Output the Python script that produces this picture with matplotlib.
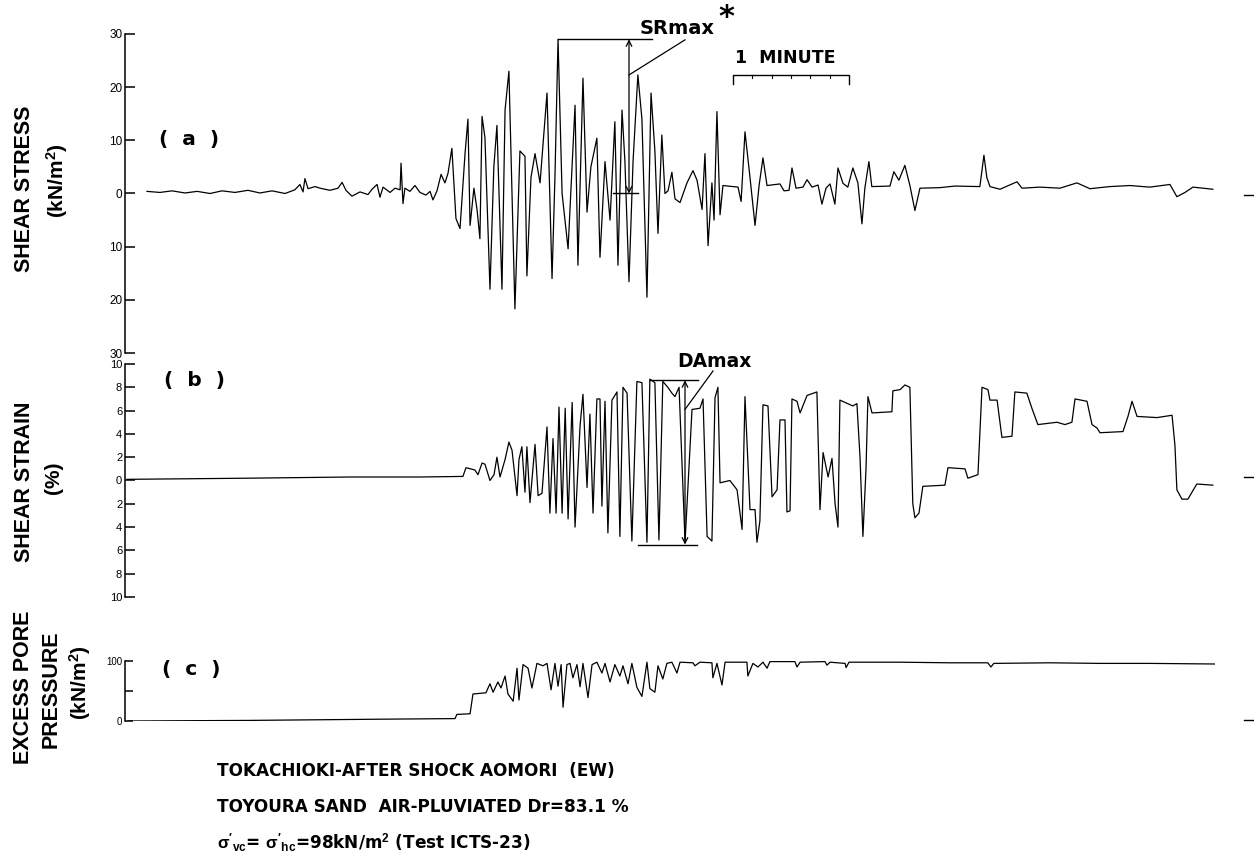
import matplotlib
matplotlib.use("Agg")
import matplotlib.pyplot as plt
from matplotlib.lines import Line2D

plt.rcParams['font.family'] = ['DejaVu Sans']
plt.rcParams['mathtext.fontset'] = 'custom'
plt.rcParams['mathtext.rm'] = 'Liberation Sans:bold'
plt.rcParams['mathtext.it'] = 'Liberation Sans:bold'
plt.rcParams['mathtext.bf'] = 'Liberation Sans:bold'
plt.rcParams['mathtext.default'] = 'rm'

# ---------------- data (time in seconds) ----------------
stress_t = [0, 6.7, 12.9, 19.7, 25.9, 32.6, 38.8, 45.5, 52.2, 58.4, 64.7, 71.4, 76.5, 79.1, 80.7,
            81.7, 83.3, 86.9, 89.5, 94.6, 98.8, 100.9, 102.9, 106.0, 110.2, 114.3, 116.4, 119.0,
            120.5, 122.1, 125.7, 128.3, 130.9, 131.4, 132.4, 133.4, 136.0, 138.6, 141.2, 144.3,
            146.4, 147.9, 150.0, 152.1, 154.1, 155.7, 157.7, 159.8, 161.9, 164.5, 166.0, 167.1,
            169.1, 170.7, 172.2, 173.3, 174.8, 177.4, 179.4, 181.0, 183.6, 185.2, 187.2, 188.8,
            190.3, 192.9, 195.5, 196.5, 198.6, 200.7, 203.3, 206.9, 209.5, 211.0, 212.6, 214.7,
            217.8, 221.4, 222.9, 225.5, 227.6, 229.6, 232.7, 234.3, 236.9, 239.5, 242.0, 243.6,
            245.7, 247.2, 249.3, 251.4, 253.9, 256.0, 258.6, 260.7, 262.7, 264.3, 266.3, 267.9,
            269.5, 271.5, 273.1, 275.7, 279.3, 282.4, 284.5, 287.1, 288.6, 290.2, 292.2, 293.3,
            294.8, 296.4, 297.9, 305.7, 307.3, 309.3, 311.9, 314.5, 316.6, 318.6, 320.7, 327.4,
            329.5, 332.1, 333.6, 335.7, 339.3, 341.4, 344.0, 347.1, 349.1, 351.2, 353.3, 355.8,
            357.4, 360.0, 362.5, 365.1, 367.7, 369.8, 371.3, 373.4, 374.9, 384.3, 386.3, 388.9,
            392.0, 394.6, 397.2, 399.8, 410.1, 417.9, 430.8, 432.9, 434.4, 436.0, 441.2, 450.0,
            452.6, 461.9, 472.2, 481.0, 487.7, 498.0, 508.4, 518.7, 529.1, 532.7, 536.9, 541.0,
            551.3]
stress_v = [0.4, 0.2, 0.5, 0.1, 0.4, 0.0, 0.5, 0.2, 0.6, 0.1, 0.5, 0.0, 0.7, 1.7, 0.3,
            2.8, 0.9, 1.3, 1.0, 0.6, 1.0, 2.1, 0.6, -0.5, 0.3, -0.2, 0.8, 1.7,
            -0.7, 1.2, 0.2, 1.0, 0.7, 5.7, -1.9, 1.0, 0.4, 1.5, 0.2, -0.3,
            0.4, -1.2, 0.5, 3.6, 2.0, 3.8, 8.5, -4.7, -6.6, 7.5, 14.0, -6.0,
            1.0, -3.0, -8.5, 14.5, 10.5, -18.0, 5.0, 12.8, -18.0, 15.7, 23.0, 0.0,
            -21.7, 8.0, 7.0, -15.5, 3.0, 7.5, 2.0, 18.9, -16.0, 3.0, 29.0, 0.0,
            -10.4, 16.6, -13.5, 21.7, -3.5, 5.0, 10.4, -12.0, 6.0, -5.0, 13.5, -13.5,
            15.7, 6.0, -16.6, 6.0, 22.3, 14.0, -19.5, 18.9, 8.0, -7.5, 11.0, 0.0,
            0.5, 4.0, -1.0, -1.7, 2.0, 4.3, 2.5, -3.0, 7.5, -9.8, 2.0, -5.0,
            15.4, -4.0, 1.5, 1.2, -1.5, 11.6, 3.0, -6.0, 1.5, 6.7, 1.5, 1.8,
            0.5, 0.6, 4.8, 1.0, 1.2, 2.6, 1.2, 1.6, -2.0, 1.0, 1.8, -2.0,
            4.8, 1.9, 1.2, 4.8, 2.0, -5.7, 1.0, 6.0, 1.3, 1.4, 4.1, 2.5,
            5.3, 1.5, -3.2, 1.0, 1.1, 1.4, 1.3, 7.2, 3.0, 1.3, 0.8, 2.2,
            1.0, 1.2, 1.0, 2.0, 0.9, 1.3, 1.5, 1.2, 1.7, -0.6, 0.2, 1.2,
            0.8]

strain_t = [-10.3, 53.3, 105.0, 141.2, 163.4, 165.0, 169.6, 171.2, 173.3, 174.8, 177.4, 179.5,
            181.0, 182.6, 185.2, 187.2, 188.8, 191.4, 192.4, 193.9, 195.5, 196.5, 198.1, 200.7,
            202.3, 204.3, 206.9, 208.4, 210.0, 211.6, 213.1, 214.7, 216.3, 217.8, 219.9, 221.4,
            224.0, 225.5, 227.6, 229.1, 230.7, 232.7, 234.3, 235.3, 236.9, 238.4, 240.5, 243.1,
            244.6, 246.2, 248.3, 250.8, 253.4, 256.0, 258.6, 260.1, 262.7, 264.8, 266.8, 269.4,
            271.5, 273.1, 275.2, 278.3, 279.8, 281.9, 286.0, 287.6, 289.7, 292.2, 293.8, 295.3,
            296.4, 301.5, 305.2, 307.8, 309.3, 311.9, 314.5, 315.5, 317.0, 318.6, 321.2, 323.3,
            325.9, 327.4, 330.0, 331.0, 332.6, 333.6, 336.2, 337.8, 341.4, 346.5, 348.1, 349.7,
            352.3, 354.3, 355.9, 357.4, 358.4, 365.1, 367.2, 368.8, 370.3, 371.9, 372.9, 375.0,
            385.3, 385.8, 389.5, 392.0, 394.6, 396.1, 397.2, 399.3, 401.3, 412.7, 414.3, 423.1,
            424.6, 429.8, 431.9, 435.0, 436.0, 439.7, 442.2, 447.4, 448.9, 455.1, 457.7, 460.8,
            470.7, 474.8, 478.4, 480.0, 486.2, 488.8, 491.4, 492.9, 504.8, 507.4, 509.5, 512.1,
            522.4, 530.2, 531.7, 532.7, 535.3, 538.4, 543.0, 551.3]
strain_v = [0.1, 0.2, 0.3, 0.3, 0.35, 1.1, 0.9, 0.5, 1.5, 1.4, 0.0, 0.5,
            2.0, 0.3, 1.8, 3.3, 2.6, -1.3, 1.8, 2.9, -1.0, 2.9, -1.9, 3.1,
            -1.3, -1.1, 4.6, -2.8, 3.6, -2.8, 6.3, -2.8, 6.2, -3.3, 6.7, -4.0,
            4.7, 7.4, -0.6, 5.7, -2.8, 7.0, 7.0, -2.2, 6.8, -4.5, 6.9, 7.6,
            -4.8, 8.0, 7.5, -5.2, 8.5, 8.4, -5.3, 8.7, 8.4, -5.1, 8.5, 8.0,
            7.5, 7.2, 8.0, -5.3, -0.5, 6.1, 6.2, 7.0, -4.8, -5.2, 7.1, 8.0,
            -0.2, 0.0, -0.8, -4.2, 7.2, -2.5, -2.5, -5.3, -3.5, 6.5, 6.4, -1.4,
            -0.8, 5.2, 5.2, -2.7, -2.6, 7.0, 6.8, 5.8, 7.3, 7.6, -2.5, 2.4,
            0.3, 1.9, -2.0, -4.0, 6.9, 6.4, 6.6, 2.0, -4.8, 1.0, 7.2, 5.8,
            5.9, 7.7, 7.8, 8.2, 8.0, -2.0, -3.2, -2.8, -0.5, -0.4, 1.1, 1.0,
            0.2, 0.5, 8.0, 7.8, 6.9, 6.9, 3.7, 3.8, 7.6, 7.5, 6.2, 4.8,
            5.0, 4.8, 5.0, 7.0, 6.8, 4.8, 4.5, 4.1, 4.2, 5.5, 6.8, 5.5,
            5.4, 5.6, 3.0, -0.8, -1.6, -1.6, -0.3, -0.4]

pore_t = [-9.8, 53.3, 120.5, 159.3, 160.3, 167.1, 168.6, 175.3, 177.4, 179.0, 181.5, 183.1,
          185.2, 186.7, 189.4, 191.4, 192.4, 194.5, 197.1, 199.1, 201.7, 204.8, 206.9, 209.0,
          211.0, 212.6, 214.2, 215.2, 217.2, 218.8, 220.3, 222.4, 224.0, 225.5, 228.1, 230.2,
          232.7, 235.3, 236.9, 239.5, 242.0, 244.6, 246.2, 248.8, 250.8, 253.4, 256.0, 258.6,
          260.1, 262.7, 264.3, 266.8, 268.9, 271.5, 274.1, 275.7, 282.4, 283.4, 286.0, 292.2,
          292.7, 294.8, 297.4, 299.0, 310.3, 310.8, 313.4, 316.0, 318.6, 320.7, 322.2, 335.1,
          336.2, 337.8, 350.7, 351.7, 353.3, 361.1, 361.6, 363.1, 389.5, 415.3, 434.9, 436.5,
          438.0, 467.0, 492.9, 518.7, 552.4]
pore_v = [0, 1, 3, 4, 11, 12, 45, 47, 62, 48, 65, 55,
          75, 45, 33, 88, 35, 94, 88, 55, 96, 92, 96, 52,
          96, 58, 94, 23, 94, 96, 72, 94, 57, 96, 39, 94,
          98, 80, 96, 65, 94, 75, 92, 62, 96, 56, 41, 98,
          54, 48, 92, 70, 96, 98, 80, 98, 97, 92, 98, 97,
          72, 96, 60, 98, 98, 75, 96, 90, 98, 88, 99, 99,
          90, 98, 99, 93, 98, 96, 89, 98, 98, 97, 97, 90,
          96, 97, 96, 96, 95]

stress_ticks = [30, 20, 10, 0, -10, -20, -30]
stress_ticklabels = ['30', '20', '10', '0', '10', '20', '30']
strain_ticks = [10, 8, 6, 4, 2, 0, -2, -4, -6, -8, -10]
strain_ticklabels = ['10', '8', '6', '4', '2', '0', '2', '4', '6', '8', '10']
pore_ticks = [100, 50, 0]
pore_ticklabels = ['100', '', '0']

# ---------------- layout helpers ----------------
W, H = 1254, 855
fig = plt.figure(figsize=(W / 100, H / 100), dpi=100)

SEC_PER_PX = 60.0 / 116.0
T0_PX = 147.0


def t_of(px):
    return (px - T0_PX) * SEC_PER_PX


def px_axes(left, right, top, bottom):
    ax = fig.add_axes([left / W, 1 - bottom / H, (right - left) / W, (bottom - top) / H])
    ax.set_xlim(t_of(left), t_of(right))
    return ax


def fx(px):
    return px / W


def fy(py):
    return 1 - py / H


def style(ax, ticks, labels, lim, fs):
    ax.set_ylim(*lim)
    for s in ['top', 'right', 'bottom']:
        ax.spines[s].set_visible(False)
    ax.spines['left'].set_linewidth(1.1)
    ax.set_xticks([])
    ax.set_yticks(ticks)
    ax.set_yticklabels(labels, fontfamily='Liberation Sans', fontsize=fs)
    ax.tick_params(axis='y', direction='in', length=7, width=1.1, pad=2)
    ax.patch.set_alpha(0)


LW = 0.9
bold = dict(fontweight='bold', color='black')
lab = dict(fontfamily='Liberation Sans', fontweight='bold', color='black',
           rotation=90, ha='center', va='center')

# ---------------- panel (a) ----------------
axa = px_axes(125, 1215, 34, 353)
style(axa, stress_ticks, stress_ticklabels, (-30, 30), 8.5)
axa.plot(stress_t, stress_v, color='black', lw=LW)

# SRmax annotation
axa.plot([t_of(558), t_of(652)], [29, 29], color='black', lw=1.0, clip_on=False)
axa.plot([t_of(613), t_of(638)], [0, 0], color='black', lw=1.0)
axa.annotate('', xy=(t_of(629), 29), xytext=(t_of(629), 0),
             arrowprops=dict(arrowstyle='<->', lw=0.9, color='black',
                             shrinkA=0, shrinkB=0, mutation_scale=10), annotation_clip=False)
axa.plot([t_of(629), t_of(685)], [22.3, 28.9], color='black', lw=0.9, clip_on=False)
fig.text(fx(640), fy(28), 'SRmax', fontsize=14, ha='left', va='center', **bold)
fig.text(fx(718), fy(18), '*', fontsize=22, ha='left', va='center', **bold)

# 1 MINUTE bracket
y_br = 22.3
axa.plot([t_of(733), t_of(733), t_of(849), t_of(849)],
         [y_br - 1.7, y_br, y_br, y_br - 1.7], color='black', lw=1.0, clip_on=False)
for k in range(1, 6):
    tk = t_of(733) + 10 * k
    axa.plot([tk, tk], [y_br, y_br - 0.6], color='black', lw=0.8)
fig.text(fx(735), fy(58), '1  MINUTE', fontsize=12.5, ha='left', va='center', **bold)
fig.text(fx(189), fy(139), '(  a  )', fontsize=14.5, ha='center', va='center', **bold)

# ---------------- panel (b) ----------------
axb = px_axes(125, 1215, 364, 597)
style(axb, strain_ticks, strain_ticklabels, (-10, 10), 8)
axb.plot(strain_t, strain_v, color='black', lw=LW)

axb.plot([t_of(650), t_of(698)], [8.6, 8.6], color='black', lw=1.0)
axb.plot([t_of(638), t_of(697)], [-5.5, -5.5], color='black', lw=1.0)
axb.annotate('', xy=(t_of(685), 8.6), xytext=(t_of(685), -5.5),
             arrowprops=dict(arrowstyle='<->', lw=0.9, color='black',
                             shrinkA=0, shrinkB=0, mutation_scale=10))
axb.plot([t_of(685), t_of(713)], [6.1, 9.4], color='black', lw=0.9, clip_on=False)
fig.text(fx(677), fy(361), 'DAmax', fontsize=13.5, ha='left', va='center', **bold)
fig.text(fx(195), fy(380), '(  b  )', fontsize=14.5, ha='center', va='center', **bold)

# ---------------- panel (c) ----------------
axc = px_axes(125, 1215, 661, 721)
style(axc, pore_ticks, pore_ticklabels, (0, 100), 7)
axc.tick_params(axis='y', length=6)
axc.plot(pore_t, pore_v, color='black', lw=LW)
fig.text(fx(191), fy(669), '(  c  )', fontsize=14.5, ha='center', va='center', **bold)

# ---------------- axis titles ----------------
fig.text(fx(25), fy(189), 'SHEAR STRESS', fontsize=15.5, **lab)
fig.text(fx(57), fy(181), '(kN/m$^2$)', fontsize=15, **lab)
fig.text(fx(25), fy(482), 'SHEAR STRAIN', fontsize=15.5, **lab)
fig.text(fx(53), fy(478), '(%)', fontsize=15, **lab)
fig.text(fx(24), fy(687), 'EXCESS PORE', fontsize=15.5, **lab)
fig.text(fx(51), fy(689), 'PRESSURE', fontsize=15.5, **lab)
fig.text(fx(80), fy(683), '(kN/m$^2$)', fontsize=15, **lab)

# ---------------- caption ----------------
fig.text(fx(217), fy(771), 'TOKACHIOKI-AFTER SHOCK AOMORI  (EW)', fontsize=12.2, ha='left', va='center', **bold)
fig.text(fx(217), fy(807), 'TOYOURA SAND  AIR-PLUVIATED Dr=83.1 %', fontsize=12.2, ha='left', va='center', **bold)
fig.text(fx(217), fy(843), r"$\sigma'_{vc}$= $\sigma'_{hc}$=98kN/m$^2$ (Test ICTS-23)",
         fontsize=12.2, ha='left', va='center', **bold)

# ---------------- right-edge reference marks ----------------
for py in (195, 477, 720):
    fig.add_artist(Line2D([fx(1244), fx(1254)], [fy(py), fy(py)], color='black', lw=1.0))

fig.savefig('out.png', dpi=100, facecolor='white')
